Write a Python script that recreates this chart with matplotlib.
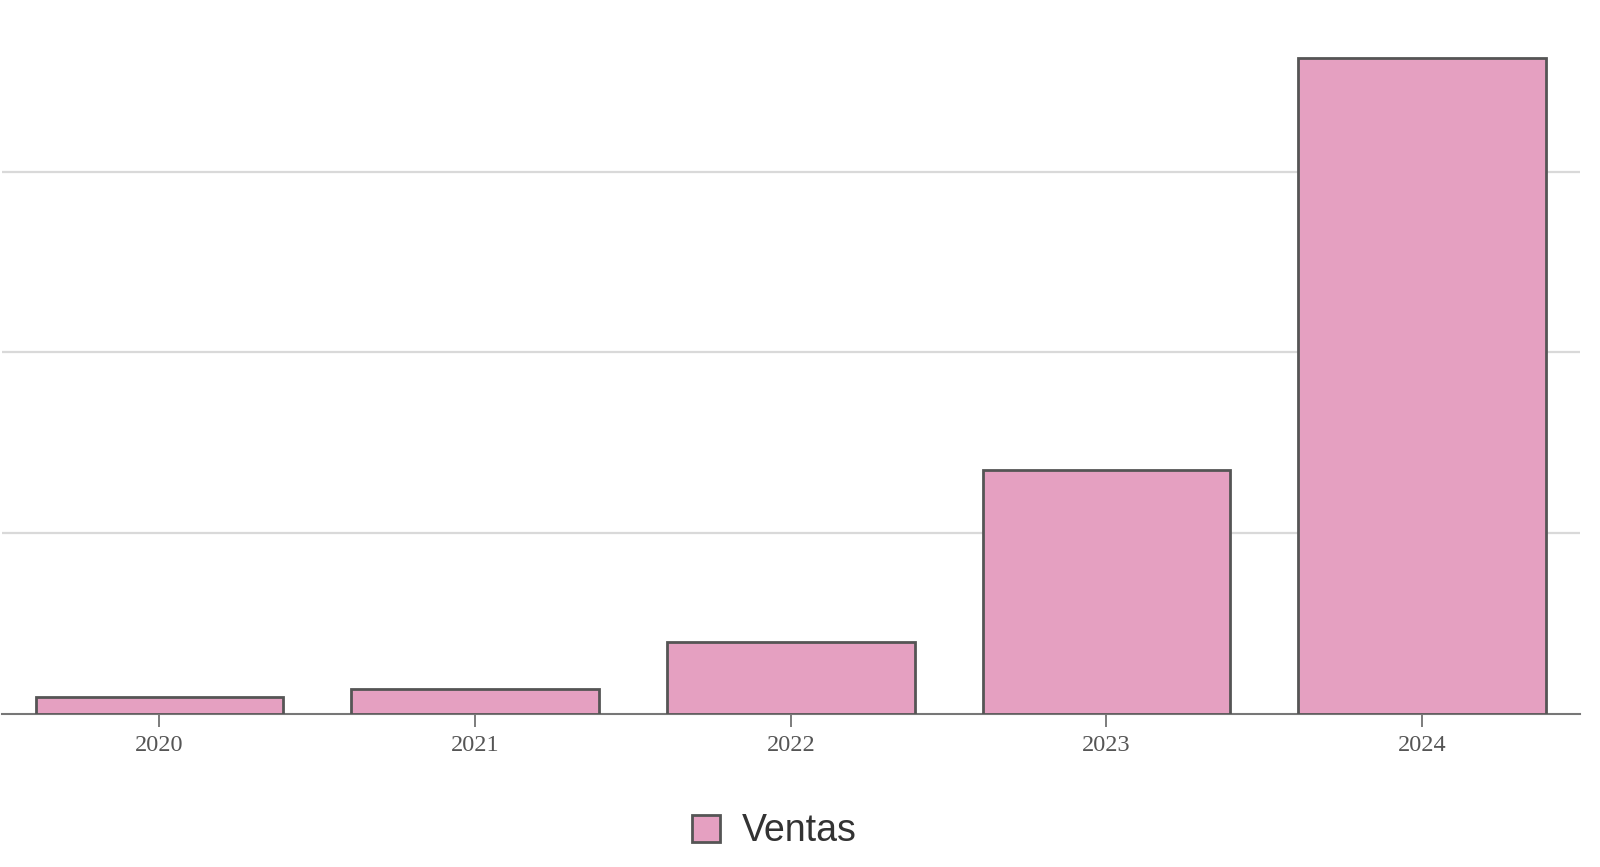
import numpy as np
import matplotlib.pyplot as plt

years = ["2020", "2021", "2022", "2023", "2024"]
ventas = [485, 705, 2000, 6750, 18150]
grid_ticks = [5000, 10000, 15000]

fig = plt.figure(figsize=(16, 8.67), dpi=100)
ax = fig.add_axes([0.001, 0.176, 0.9865, 0.824])

x = np.arange(len(years))
ax.bar(x, ventas, width=0.785, color="#e5a0c1", edgecolor="#555555",
       linewidth=2, label="Ventas", zorder=3)

ax.set_xlim(-0.5, 4.5)
ax.set_ylim(0, 19740)
ax.set_yticks(grid_ticks)
ax.yaxis.grid(True, color="#d9d9d9", linewidth=1.6, zorder=0)
ax.tick_params(axis="y", left=False, labelleft=False)

ax.set_xticks(x)
ax.set_xticklabels(years, fontfamily="Liberation Serif", fontsize=17.5, color="#555555")
ax.tick_params(axis="x", length=9, width=1.2, color="#666666", pad=6)

for s in ["top", "right", "left"]:
    ax.spines[s].set_visible(False)
ax.spines["bottom"].set_color("#777777")
ax.spines["bottom"].set_linewidth(1.5)

leg = fig.legend(loc="center", bbox_to_anchor=(0.484, 0.041), frameon=False,
                 prop={"family": "Liberation Sans", "size": 27},
                 handlelength=0.75, handleheight=0.75, handletextpad=0.6)
for t in leg.get_texts():
    t.set_color("#333333")

fig.savefig("out.png", dpi=100)
